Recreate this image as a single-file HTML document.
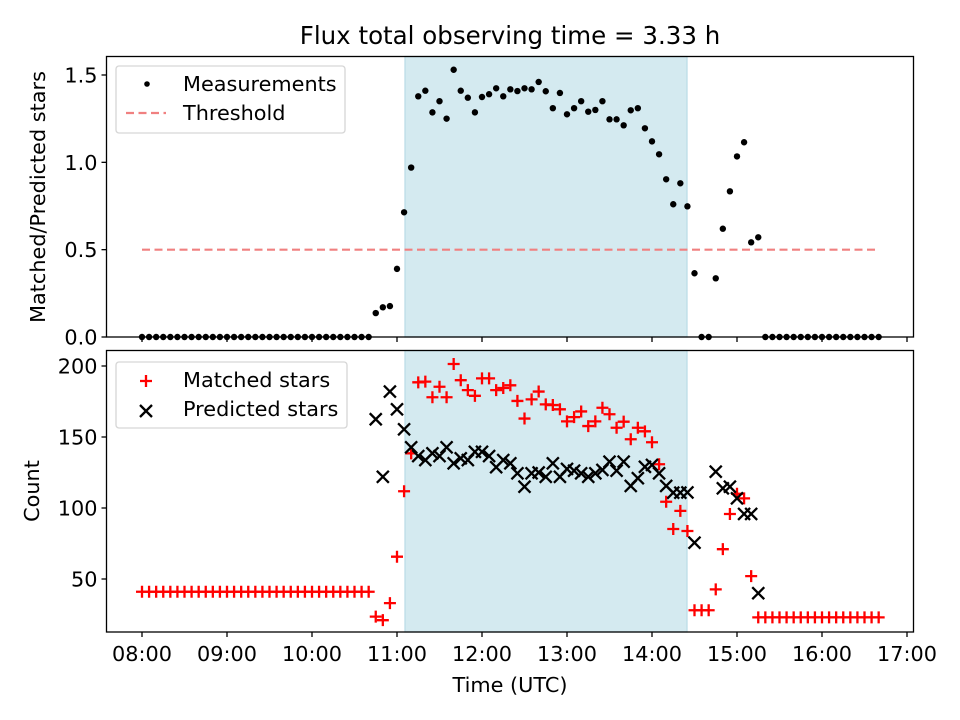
<!DOCTYPE html>
<html><head><meta charset="utf-8">
<style>
html,body{margin:0;padding:0;background:#fff;}
svg{display:block;font-family:"DejaVu Sans","Liberation Sans",sans-serif;}
</style></head>
<body>
<svg id="fig" width="960" height="720" viewBox="0 0 960 720" xmlns="http://www.w3.org/2000/svg">
<rect width="960" height="720" fill="#fff"/>
<text x="510" y="44" font-size="24.5" text-anchor="middle">Flux total observing time = 3.33 h</text>
<g id="topPanel"></g>
<g id="botPanel"></g>
<text transform="translate(45,197) rotate(-90)" font-size="20.8" text-anchor="middle">Matched/Predicted stars</text>
<text transform="translate(39,491) rotate(-90)" font-size="20.8" text-anchor="middle">Count</text>
<text x="510" y="692" font-size="20.8" text-anchor="middle">Time (UTC)</text>
</svg>
<script>
const startHour = 8, stepMin = 5;
const ratio = [0,0,0,0,0,0,0,0,0,0,0,0,0,0,0,0,0,0,0,0,0,0,0,0,0,0,0,0,0,0,0,0,0,
0.137,0.17,0.177,0.39,0.714,0.97,1.378,1.41,1.286,1.35,1.25,1.53,1.41,1.37,1.286,1.374,1.39,1.424,1.378,1.418,1.408,1.424,1.418,1.46,1.407,1.31,1.397,1.275,1.31,1.35,1.29,1.30,1.35,1.246,1.246,1.212,1.298,1.31,1.195,1.12,1.046,0.903,0.76,0.88,0.748,0.365,0,0,0.336,0.62,0.834,1.034,1.115,0.542,0.571,
0,0,0,0,0,0,0,0,0,0,0,0,0,0,0,0,0];
const matched = [41,41,41,41,41,41,41,41,41,41,41,41,41,41,41,41,41,41,41,41,41,41,41,41,41,41,41,41,41,41,41,41,41,
23.5,21,33,65.7,111.8,138.5,188.5,189,178,185.4,178,201.4,190,183,179,191.3,191.3,183,184.5,186.4,175.4,163,176.5,182,173,172.5,169.5,161,164,168,157.7,161,170.6,166,156.5,160.8,148.4,156.5,154,146.3,130.8,104.4,85.2,98,83.8,28,28,28,42.7,71,95.8,110,106.8,52,23,
23,23,23,23,23,23,23,23,23,23,23,23,23,23,23,23,23];
const predicted = [null,null,null,null,null,null,null,null,null,null,null,null,null,null,null,null,null,null,null,null,null,null,null,null,null,null,null,null,null,null,null,null,null,
162.5,122,182,169.5,155.4,142.7,136.6,133.8,138.5,136.6,142.7,131.5,135,133.8,139.6,139.6,136.6,128.7,133.8,131.5,124.4,115,124.4,125,122,131.5,122,127.5,126.3,124.4,122,124.4,126.8,132.6,126.3,132.6,115.5,121,129,130.3,124.4,115.5,110.8,110.8,111,75.6,null,null,125.6,113.9,115,106.8,95.8,95.8,40,
null,null,null,null,null,null,null,null,null,null,null,null,null,null,null,null,null];
const threshold = 0.5;
const spanStart = 11.094, spanEnd = 14.412;
const xTickHours = [8,9,10,11,12,13,14,15,16,17];
const xTickLabels = ["08:00","09:00","10:00","11:00","12:00","13:00","14:00","15:00","16:00","17:00"];
const topTicks = [0,0.5,1.0,1.5];
const topTickLabels = ["0.0","0.5","1.0","1.5"];
const botTicks = [50,100,150,200];
const botTickLabels = ["50","100","150","200"];

const NS="http://www.w3.org/2000/svg";
const L=106.5,R=913.5;
const T1=56.5,B1=337,T2=350.5,B2=632;
const FS=20.8;
const X=h=>142+(h-8)*85;
const Y1=v=>337-v*174.67;
const Y2=v=>579-(v-50)*1.42;
const hourOf=i=>startHour+i*stepMin/60;
function mk(tag,attrs,parent){const e=document.createElementNS(NS,tag);for(const k in attrs)e.setAttribute(k,attrs[k]);parent.appendChild(e);return e;}
const gTop=document.getElementById('topPanel'), gBot=document.getElementById('botPanel');

function span(g,T,B){
  const r=mk('rect',{x:X(spanStart),y:T,width:X(spanEnd)-X(spanStart),height:B-T,fill:'#d4eaf0',stroke:'#b9dbe6','stroke-width':1.2},g);
  
  
}
span(gTop,T1,B1); span(gBot,T2,B2);

const th=mk('line',{x1:X(hourOf(0)),x2:X(hourOf(ratio.length-1)),y1:Y1(threshold),y2:Y1(threshold),stroke:'#f08080','stroke-width':2.2,'stroke-dasharray':'8,4.5'},gTop);



ratio.forEach((v,i)=>{
  const c=mk('circle',{cx:X(hourOf(i)),cy:Y1(v),r:3.2,fill:'#000'},gTop);
  
  
});
function plus(g,x,y,col,s){
  return mk('path',{d:`M${x-s},${y}H${x+s}M${x},${y-s}V${y+s}`,stroke:col,'stroke-width':2.3,fill:'none'},g);
}
function cross(g,x,y,col,s){
  return mk('path',{d:`M${x-s},${y-s}L${x+s},${y+s}M${x-s},${y+s}L${x+s},${y-s}`,stroke:col,'stroke-width':2.3,fill:'none'},g);
}
matched.forEach((v,i)=>{
  if(v==null)return;
  const p=plus(gBot,X(hourOf(i)),Y2(v),'#ff0000',6);
  
  
});
predicted.forEach((v,i)=>{
  if(v==null)return;
  const p=cross(gBot,X(hourOf(i)),Y2(v),'#000',6);
  
  
});

function frame(g,T,B,name){
  const f=mk('rect',{x:L,y:T,width:R-L,height:B-T,fill:'none',stroke:'#000','stroke-width':1.3},g);
  
  
}
frame(gTop,T1,B1,'top-axes-frame'); frame(gBot,T2,B2,'bottom-axes-frame');

xTickHours.forEach((h,i)=>{
  const x=X(h);
  const t1=mk('line',{x1:x,x2:x,y1:B1,y2:B1+5,stroke:'#000','stroke-width':1.3},gTop);
  
  
  const t2=mk('line',{x1:x,x2:x,y1:B2,y2:B2+5,stroke:'#000','stroke-width':1.3},gBot);
  
  
  const tx=mk('text',{x:x,y:B2+29,'font-size':FS,'text-anchor':'middle'},gBot);
  tx.textContent=xTickLabels[i];
  
  
});
topTicks.forEach((v,i)=>{
  const y=Y1(v);
  const t=mk('line',{x1:L-5,x2:L,y1:y,y2:y,stroke:'#000','stroke-width':1.3},gTop);
  
  
  const tx=mk('text',{x:L-9,y:y+7.5,'font-size':FS,'text-anchor':'end'},gTop);
  tx.textContent=topTickLabels[i];
  
  
});
botTicks.forEach((v,i)=>{
  const y=Y2(v);
  const t=mk('line',{x1:L-5,x2:L,y1:y,y2:y,stroke:'#000','stroke-width':1.3},gBot);
  
  
  const tx=mk('text',{x:L-9,y:y+7.5,'font-size':FS,'text-anchor':'end'},gBot);
  tx.textContent=botTickLabels[i];
  
  
});

const lg1=mk('g',{},gTop);


mk('rect',{x:116,y:66,width:229,height:67,rx:3,fill:'#fff','fill-opacity':0.85,stroke:'#d6d6d6','stroke-width':1.3},lg1);
const d1=mk('circle',{cx:147,cy:84,r:2.8,fill:'#000'},lg1);


const l1=mk('text',{x:183,y:91,'font-size':FS},lg1); l1.textContent='Measurements';


const d2=mk('line',{x1:126,x2:166,y1:113,y2:113,stroke:'#f08080','stroke-width':2.2,'stroke-dasharray':'8,4.5'},lg1);


const l2=mk('text',{x:183,y:120,'font-size':FS},lg1); l2.textContent='Threshold';



const lg2=mk('g',{},gBot);


mk('rect',{x:116,y:362,width:231,height:66,rx:3,fill:'#fff','fill-opacity':0.85,stroke:'#d6d6d6','stroke-width':1.3},lg2);
const m1=plus(gBot===null?lg2:lg2,146,381,'#ff0000',6);


const t1=mk('text',{x:183,y:387,'font-size':FS},lg2); t1.textContent='Matched stars';


const m2=cross(lg2,146,411,'#000',6);


const t2=mk('text',{x:183,y:416,'font-size':FS},lg2); t2.textContent='Predicted stars';


</script>
</body></html>
